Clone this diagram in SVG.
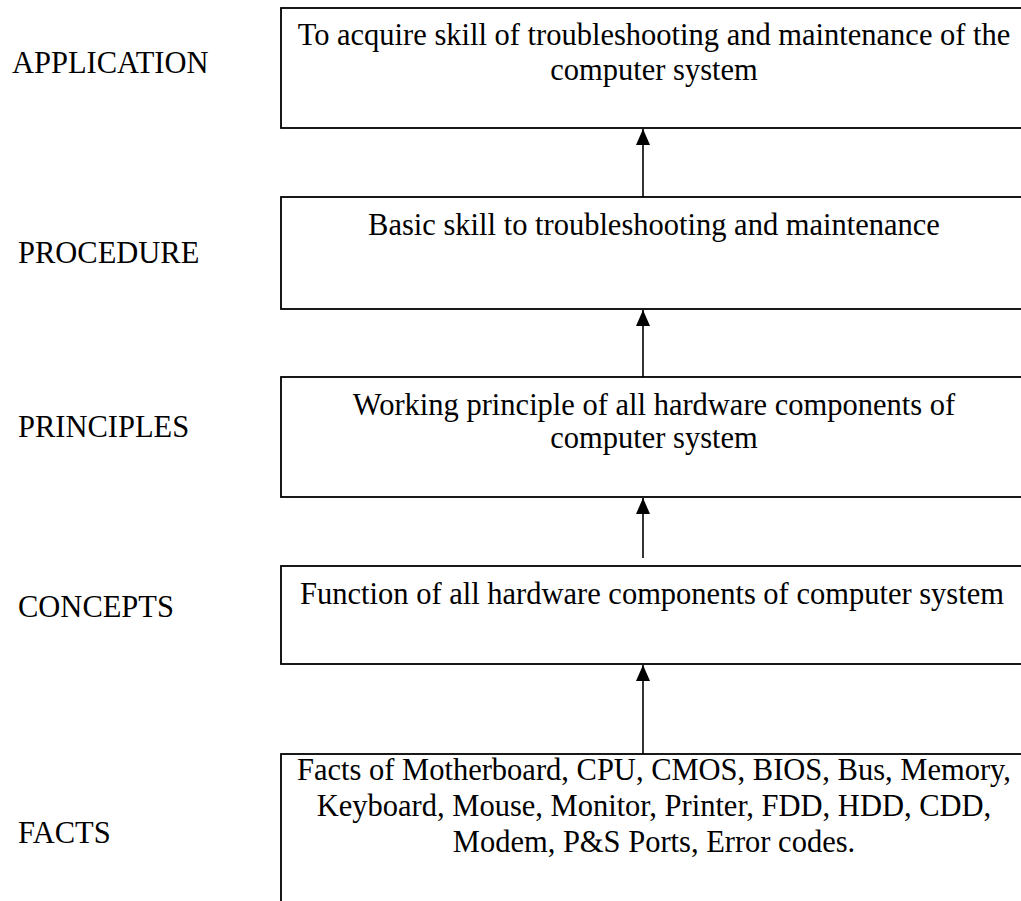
<svg xmlns="http://www.w3.org/2000/svg" width="1021" height="901" viewBox="0 0 1021 901">
<style>
.box{fill:#fff;stroke:#000;stroke-width:1.8}
.t{font-family:"Liberation Serif","Times New Roman",serif;font-size:30.5px;fill:#000}
.c{text-anchor:middle}
.con{stroke:#000;stroke-width:1.6;fill:none}
</style>
<defs>
<marker id="ah" viewBox="0 0 16 14" refX="16" refY="7" markerWidth="16" markerHeight="14" markerUnits="userSpaceOnUse" orient="auto">
<path d="M0,0 L16,7 L0,14 Z" fill="#000"/>
</marker>
</defs>
<g id="labels">
<text class="t" x="12" y="73">APPLICATION</text>
<text class="t" x="18" y="263">PROCEDURE</text>
<text class="t" x="18" y="437">PRINCIPLES</text>
<text class="t" x="18" y="617">CONCEPTS</text>
<text class="t" x="18" y="843">FACTS</text>
</g>
<g id="node-application">
<rect class="box" x="281" y="8" width="760" height="120"/>
<text class="t c" x="654" y="45">To acquire skill of troubleshooting and maintenance of the</text>
<text class="t c" x="654" y="80">computer system</text>
</g>
<g id="node-procedure">
<rect class="box" x="281" y="197" width="760" height="112"/>
<text class="t c" x="654" y="235">Basic skill to troubleshooting and maintenance</text>
</g>
<g id="node-principles">
<rect class="box" x="281" y="377" width="760" height="120"/>
<text class="t c" x="654" y="415">Working principle of all hardware components of</text>
<text class="t c" x="654" y="448">computer system</text>
</g>
<g id="node-concepts">
<rect class="box" x="281" y="566" width="760" height="98"/>
<text class="t c" x="652" y="604">Function of all hardware components of computer system</text>
</g>
<g id="node-facts">
<rect class="box" x="281" y="754" width="760" height="200"/>
<text class="t c" x="654" y="780">Facts of Motherboard, CPU, CMOS, BIOS, Bus, Memory,</text>
<text class="t c" x="654" y="816">Keyboard, Mouse, Monitor, Printer, FDD, HDD, CDD,</text>
<text class="t c" x="654" y="852">Modem, P&amp;S Ports, Error codes.</text>
</g>
<g id="connectors">
<line class="con" x1="643" y1="197" x2="643" y2="129" marker-end="url(#ah)"/>
<line class="con" x1="643" y1="377" x2="643" y2="310" marker-end="url(#ah)"/>
<line class="con" x1="643" y1="558" x2="643" y2="498" marker-end="url(#ah)"/>
<line class="con" x1="643" y1="754" x2="643" y2="665" marker-end="url(#ah)"/>
</g>
</svg>
